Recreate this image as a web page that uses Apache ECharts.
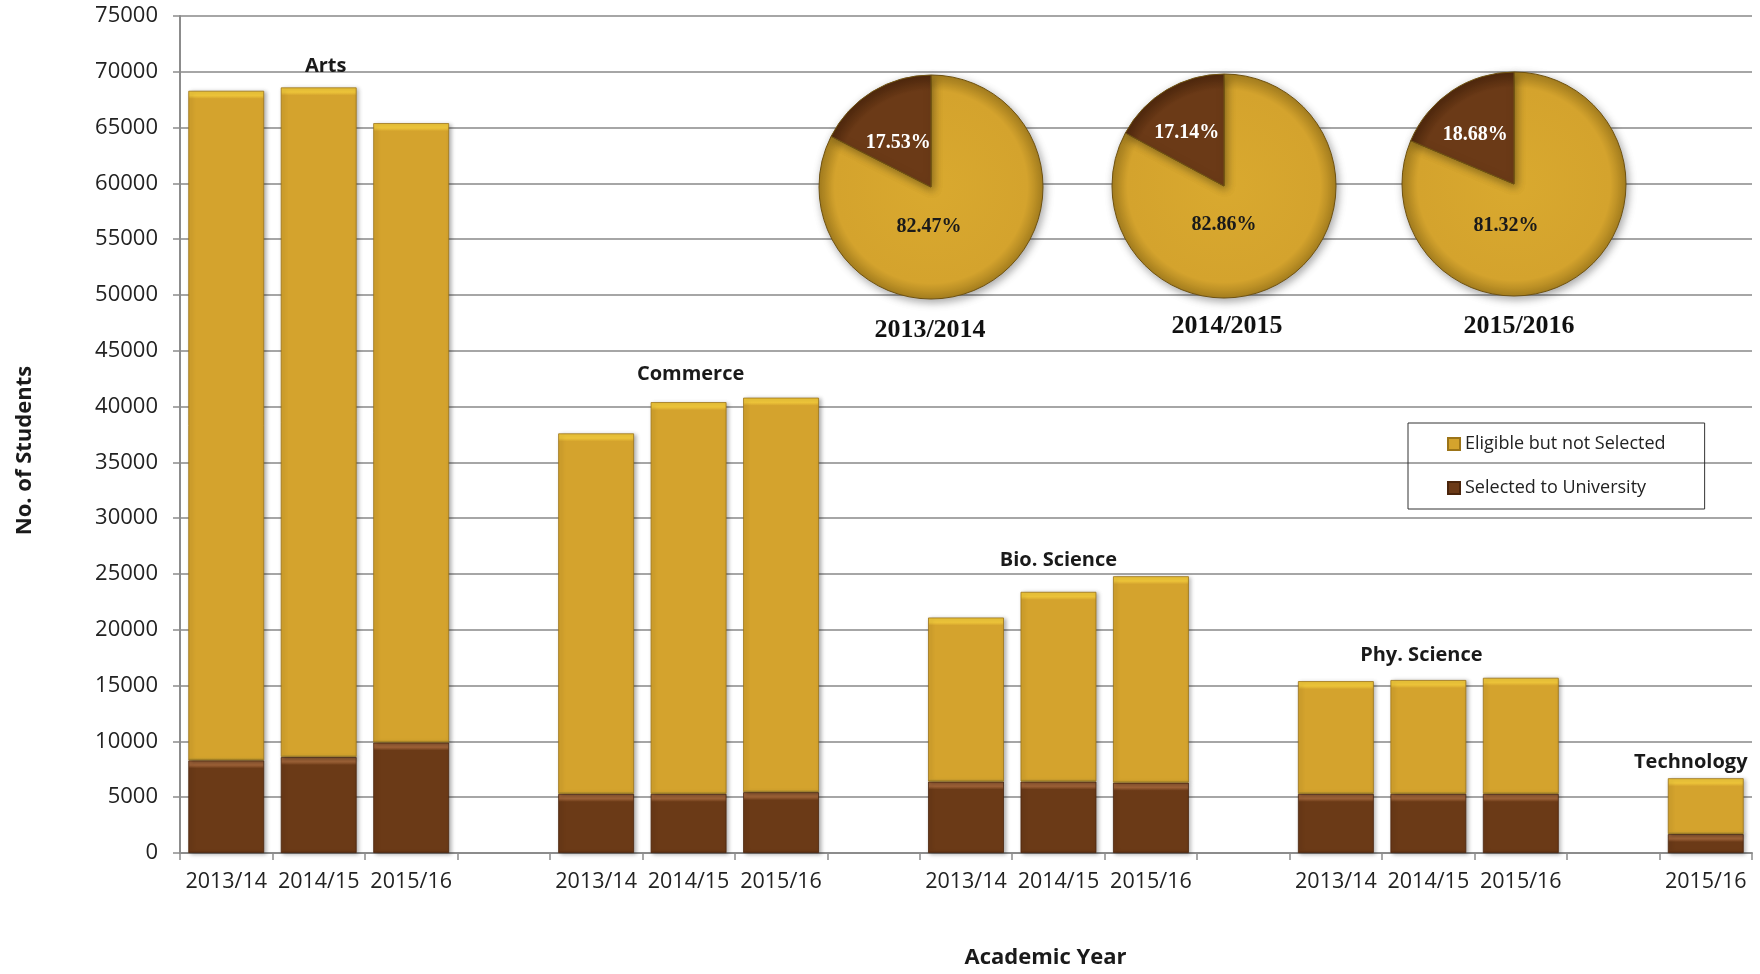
<!DOCTYPE html>
<html>
<head>
<meta charset="utf-8">
<script src="https://cdn.jsdelivr.net/npm/echarts@6/dist/echarts.min.js"></script>
<style>
html,body{margin:0;padding:0;background:#fff;}
#chart{width:1760px;height:974px;}
</style>
</head>
<body>
<div id="chart"></div>
<script>
// ---- data ----
const categories = ['2013/14','2014/15','2015/16','',
                    '2013/14','2014/15','2015/16','',
                    '2013/14','2014/15','2015/16','',
                    '2013/14','2014/15','2015/16','',
                    '2015/16'];
const selectedToUniversity = [8300, 8600, 9900, null,
                              5300, 5300, 5450, null,
                              6400, 6400, 6300, null,
                              5300, 5300, 5300, null,
                              1700];
const eligibleNotSelected = [60000, 60000, 55500, null,
                             32300, 35100, 35350, null,
                             14700, 17000, 18500, null,
                             10100, 10200, 10400, null,
                             5000];
const groupNames = ['Arts', 'Commerce', 'Bio. Science', 'Phy. Science', 'Technology'];
const groupLabelIndex = [1, 5, 9, 13, 16];
const yTicks = [0, 75000, 5000]; // min, max, interval
const pieYears = ['2013/2014', '2014/2015', '2015/2016'];
const pieEligiblePct = [82.47, 82.86, 81.32];
const pieSelectedPct = [17.53, 17.14, 18.68];
const seriesNames = ['Eligible but not Selected', 'Selected to University'];

// ---- styles ----
const GOLD = '#D4A32D', BROWN = '#6B3A17';
const SANS = '"Open Sans", "Noto Sans", sans-serif';
const SERIF = '"Liberation Serif", "DejaVu Serif", serif';
const PX_PER_UNIT = 843 / 75000; // approx plot px per student, for bevel band size only
const groupLabelStyle = [
  {distance: 11, offset: [7, 0]},
  {distance: 18, offset: [2, 0]},
  {distance: 22, offset: [0, 0]},
  {distance: 15, offset: [-7, 0]},
  {distance: 6, offset: [-15, 0]}
];
const pieCenters = [[931, 187], [1224, 186], [1514, 184]];
const PIE_R = 112;
const pieLargeOffset = [[-2, 40], [0, 39], [-8, 42]];
const pieSmallOffset = [[-2, 6], [-7, -3], [-6, 0]];
const pieTitlePos = [[925, 312], [1222, 308], [1514, 308]];

function bevel(value, main, light, edge) {
  const h = Math.max(1, (value || 0) * PX_PER_UNIT);
  const f = Math.min(0.45, 8 / h);
  return {type: 'linear', x: 0, y: 0, x2: 0, y2: 1,
    colorStops: [{offset: 0, color: light}, {offset: f * 0.6, color: light},
                 {offset: f, color: main}, {offset: Math.min(1, 1 - f * 0.3), color: main},
                 {offset: 1, color: edge}]};
}

const eligibleData = eligibleNotSelected.map((v, i) => {
  if (v == null) return v;
  const item = {value: v, itemStyle: {color: bevel(v, GOLD, '#EFC63A', '#9a8430')}};
  const g = groupLabelIndex.indexOf(i);
  if (g >= 0) {
    item.label = {show: true, position: 'top', formatter: groupNames[g],
      distance: groupLabelStyle[g].distance, offset: groupLabelStyle[g].offset,
      fontFamily: SANS, fontWeight: 'bold', fontSize: 20, color: '#1a1a1a'};
  }
  return item;
});
const selectedData = selectedToUniversity.map(v => v == null ? v :
  {value: v, itemStyle: {color: bevel(v, BROWN, '#9E6238', '#5a2e10')}});

const series = [
  {name: seriesNames[1], type: 'bar', stack: 's', data: selectedData,
   barCategoryGap: '18%',
   itemStyle: {color: BROWN, borderColor: '#4a250c', borderWidth: 0.8,
     shadowBlur: 4, shadowColor: 'rgba(0,0,0,0.3)', shadowOffsetX: 2, shadowOffsetY: 1}},
  {name: seriesNames[0], type: 'bar', stack: 's', data: eligibleData,
   barCategoryGap: '18%',
   itemStyle: {color: GOLD, borderColor: '#9c7418', borderWidth: 0.8,
     shadowBlur: 4, shadowColor: 'rgba(0,0,0,0.3)', shadowOffsetX: 2, shadowOffsetY: 1}}
];

function radial(cx, cy, c0, c1, c2) {
  return {type: 'radial', x: cx, y: cy, r: PIE_R, global: true,
    colorStops: [{offset: 0, color: c0}, {offset: 0.86, color: c1}, {offset: 1, color: c2}]};
}

pieYears.forEach((yr, k) => {
  const [cx, cy] = pieCenters[k];
  series.push({
    type: 'pie', name: yr, center: pieCenters[k], radius: PIE_R, startAngle: 90,
    clockwise: true, silent: true, legendHoverLink: false,
    labelLine: {show: false},
    itemStyle: {borderColor: '#6f5210', borderWidth: 1, shadowBlur: 8,
      shadowColor: 'rgba(0,0,0,0.35)', shadowOffsetX: 2, shadowOffsetY: 3},
    data: [
      {value: pieEligiblePct[k], name: seriesNames[0],
       itemStyle: {color: radial(cx, cy, '#D9A92F', GOLD, '#A7801F')},
       label: {show: true, position: 'center', offset: pieLargeOffset[k],
         formatter: pieEligiblePct[k].toFixed(2) + '%', fontFamily: SERIF,
         fontWeight: 'bold', fontSize: 20, color: '#1a1a1a'}},
      {value: pieSelectedPct[k], name: seriesNames[1],
       itemStyle: {color: radial(cx, cy, BROWN, BROWN, '#4f280d')},
       label: {show: true, position: 'inside', offset: pieSmallOffset[k],
         formatter: pieSelectedPct[k].toFixed(2) + '%', fontFamily: SERIF,
         fontWeight: 'bold', fontSize: 20, color: '#ffffff'}}
    ]
  });
});

const titles = pieYears.map((yr, k) => ({
  text: yr, left: pieTitlePos[k][0], top: pieTitlePos[k][1], textAlign: 'center',
  textStyle: {fontFamily: SERIF, fontWeight: 'bold', fontSize: 26, color: '#111'}
}));

const option = {
  animation: false,
  backgroundColor: '#fff',
  title: titles,
  legend: {
    data: seriesNames, orient: 'vertical', left: 1408, top: 423,
    itemWidth: 12, itemHeight: 12, itemGap: 26, icon: 'rect',
    borderColor: '#333', borderWidth: 1, padding: [12, 39, 12, 39],
    textStyle: {fontFamily: SANS, fontSize: 18, color: '#222'},
    selectedMode: false
  },
  grid: {left: 180, right: 8, top: 16, bottom: 115, containLabel: false},
  xAxis: {
    type: 'category', data: categories,
    name: 'Academic Year', nameLocation: 'middle', nameGap: 94,
    nameTextStyle: {fontFamily: SANS, fontWeight: 'bold', fontSize: 22, color: '#1a1a1a',
      padding: [0, 0, 0, 159]},
    axisLine: {lineStyle: {color: '#8c8c8c', width: 2}},
    axisTick: {show: true, alignWithLabel: false, length: 7, lineStyle: {color: '#8c8c8c', width: 1.5}},
    axisLabel: {interval: 0, margin: 18, fontFamily: SANS, fontSize: 21.5, color: '#222'},
    splitLine: {show: false}
  },
  yAxis: {
    type: 'value', min: yTicks[0], max: yTicks[1], interval: yTicks[2],
    name: 'No. of Students', nameLocation: 'middle', nameGap: 144, nameRotate: 90,
    nameTextStyle: {fontFamily: SANS, fontWeight: 'bold', fontSize: 22, color: '#1a1a1a',
      padding: [0, 32, 0, 0]},
    axisLine: {show: true, lineStyle: {color: '#8c8c8c', width: 2}},
    axisTick: {show: true, length: 7, lineStyle: {color: '#8c8c8c', width: 1.5}},
    axisLabel: {margin: 22, fontFamily: SANS, fontSize: 22, color: '#222',
      formatter: v => String(v)},
    splitLine: {show: true, lineStyle: {color: '#a6a6a6', width: 2}}
  },
  series: series
};

const chart = echarts.init(document.getElementById('chart'));
chart.setOption(option);
</script>
</body>
</html>
